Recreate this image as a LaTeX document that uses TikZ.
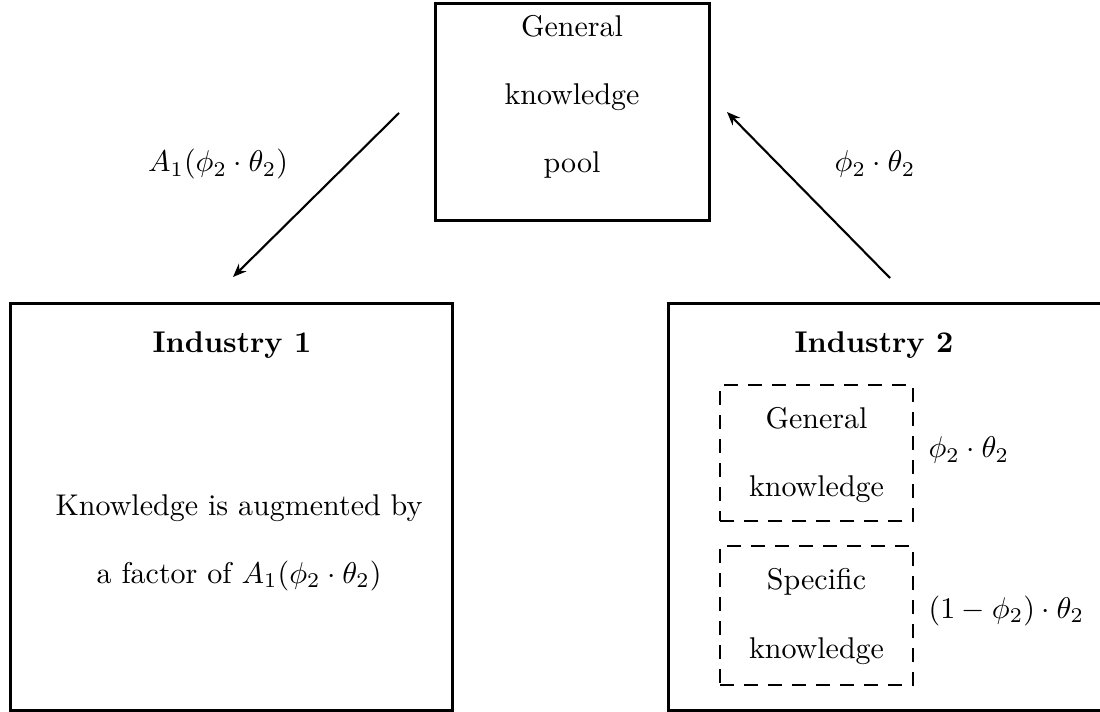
\documentclass[tikz,border=0pt]{standalone}
\usetikzlibrary{arrows.meta}
\begin{document}
\begin{tikzpicture}[x=0.33333pt,y=-0.33333pt,
  box/.style={draw, line width=1pt, rectangle, inner sep=0pt},
  dbox/.style={draw, line width=0.7pt, dash pattern=on 4.5pt off 3.5pt, rectangle, inner sep=0pt},
  txt/.style={anchor=base, inner sep=0pt},
  lbl/.style={anchor=base west, inner sep=0pt},
  flow/.style={line width=0.7pt, -{Stealth[length=4.5pt,width=3.6pt]}}]
\useasboundingbox (0,0) rectangle (1100,712);
\clip (0,0) rectangle (1100,712);
% boxes
\node[box, minimum width=91.33pt, minimum height=72.33pt] (pool) at (572,112.5) {};
\node[box, minimum width=147.33pt, minimum height=135.33pt] (ind1) at (231,507) {};
\node[box, minimum width=148pt, minimum height=135.33pt] (ind2) at (890,507) {};
\node[dbox, minimum width=64.33pt, minimum height=45.33pt] (gen) at (816.5,453) {};
\node[dbox, minimum width=64.33pt, minimum height=46.33pt] (spec) at (816.5,615.5) {};
% top box text
\node[txt] (t1) at (572,37) {General};
\node[txt] (t2) at (572,105) {knowledge};
\node[txt] (t3) at (572,173) {pool};
% industry 1
\node[txt] (i1) at (232,353) {\textbf{Industry 1}};
\node[txt] (i1a) at (239,516) {Knowledge is augmented by};
\node[txt] (i1b) at (239,583) {a factor of $A_1(\phi_2\cdot\theta_2)$};
% industry 2
\node[txt] (i2) at (874,353) {\textbf{Industry 2}};
\node[txt] (g1) at (816.5,429) {General};
\node[txt] (g2) at (816.5,497) {knowledge};
\node[txt] (s1) at (816.5,590) {Specific};
\node[txt] (s2) at (816.5,658) {knowledge};
\node[lbl] (gl) at (928,458) {$\phi_2\cdot\theta_2$};
\node[lbl] (sl) at (928,618) {$(1-\phi_2)\cdot\theta_2$};
% arrows
\coordinate (a1s) at (399,113);
\coordinate (a1e) at (233,277);
\coordinate (a2s) at (890,278);
\coordinate (a2e) at (727,112);
\draw[flow] (a1s) -- (a1e);
\draw[flow] (a2s) -- (a2e);
\node[txt] (l1) at (218,172) {$A_1(\phi_2\cdot\theta_2)$};
\node[txt] (l2) at (875,172) {$\phi_2\cdot\theta_2$};
\end{tikzpicture}
\end{document}
